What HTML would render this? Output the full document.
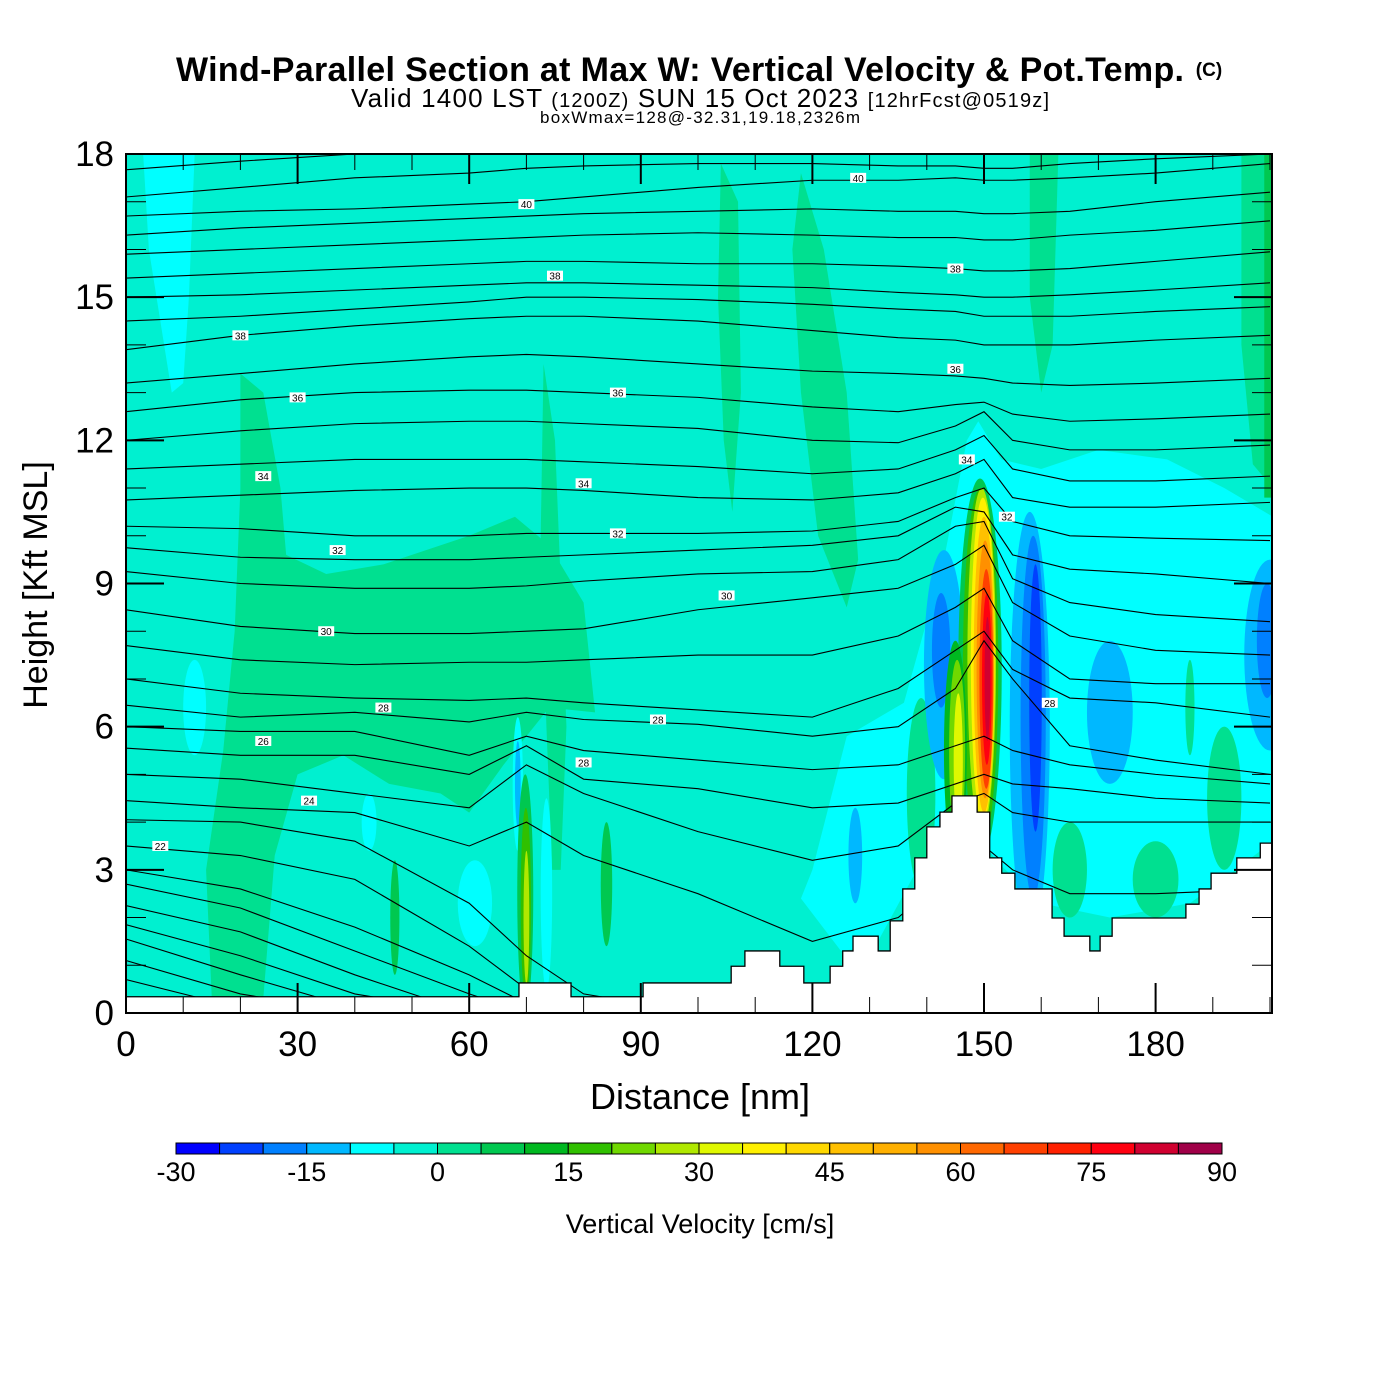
<!DOCTYPE html>
<html><head><meta charset="utf-8"><style>
body{margin:0;background:#fff}
svg{display:block}
text{font-family:"Liberation Sans",sans-serif}
</style></head><body>
<svg id="svg" width="1400" height="1400" viewBox="0 0 1400 1400">
<text x="176" y="81" font-size="34" font-weight="bold" textLength="1008">Wind-Parallel Section at Max W: Vertical Velocity &amp; Pot.Temp.</text>
<text x="1209" y="76" text-anchor="middle" font-size="19" font-weight="bold">(C)</text>
<text x="700" y="107" text-anchor="middle" font-size="26" textLength="698">Valid 1400 LST <tspan font-size="20">(1200Z)</tspan> SUN 15 Oct 2023 <tspan font-size="20">[12hrFcst@0519z]</tspan></text>
<text x="700" y="123" text-anchor="middle" font-size="17" textLength="320">boxWmax=128@-32.31,19.18,2326m</text>
<defs><clipPath id="pc"><rect x="126" y="154" width="1146" height="859"/></clipPath></defs>
<g id="plot" clip-path="url(#pc)"></g>
<g id="axes"></g>
<text x="700" y="1109" text-anchor="middle" font-size="36">Distance [nm]</text>
<text transform="translate(47,585) rotate(-90)" text-anchor="middle" font-size="34">Height [Kft MSL]</text>
<g id="cbar"></g>
<text x="700" y="1233" text-anchor="middle" font-size="27">Vertical Velocity [cm/s]</text>
</svg>
<script>
const colors=["#0000ff","#0040ff","#0080ff","#00b8ff","#00ffff","#00f0d0","#00e090","#00c850","#00b820","#30c000","#70d800","#b0e800","#e0f800","#fff000","#ffd800","#ffc000","#ffb000","#ff9000","#ff6800","#ff4000","#ff2000","#ff0010","#d00030","#a00048"];
const cbTicks=[-30,-15,0,15,30,45,60,75,90];
const xTicks=[0,30,60,90,120,150,180];
const yTicks=[0,3,6,9,12,15,18];
const regionIdx=[6,6,6,6,6,6,4,4,7];
const regionPts=[
 [[20,13.4],[24,13],[27,11],[28,9.6],[35,9.2],[45,9.4],[60,10],[68,10.4],[74,9.8],[80,8.6],[82,6.3],[74,6.4],[66,5.2],[60,4.2],[55,4.6],[46,4.8],[38,5.4],[30,5],[26,3.3],[24,0.3],[15,0.3],[14,3],[17,5.5],[19,8],[20,11]],
 [[73,13.6],[75,12],[76,9],[77,6],[76,3],[74.5,3],[73.5,6],[72.5,10]],
 [[104,17.8],[107,17],[107.5,13],[106,10.5],[104.5,12],[103.5,15]],
 [[118,17.6],[122,16],[126,13],[128,9.5],[126,8.5],[121,10],[118,13],[116.5,16]],
 [[195,18],[200.5,18],[200.5,11],[197,11.5],[195,14]],
 [[158,18],[163,18],[162,14],[160,13],[158,15]],
 [[120,3],[126,5.8],[136,6.5],[143,9.5],[147,12],[149,12.4],[153,11.6],[160,11.4],[170,11.8],[182,11.6],[192,11],[200.5,10.4],[200.5,3.6],[194,3],[186,2.3],[172,2],[160,2.3],[152,3.2],[147,4.2],[141,3.6],[136,2.5],[131,1.4],[125,1.3],[118,2.4]],
 [[3,18],[12,18],[11,15],[10,13.2],[8,13],[6,14.5],[4,16]],
 [[199,10.8],[200.5,10.8],[200.5,18],[199,18]]
];
const blobs=[
 [192,4.5,3,1.5,6],[180,2.8,4,0.8,6],[165,3,3,1,6],[139,4.6,2.5,2,6],
 [47,2,0.8,1.2,7],[84,2.7,1,1.3,7],[186,6.4,0.8,1,6],
 [12,6.4,2,1,4],[42.5,4,1.3,0.6,4],[61,2.3,3,0.9,4],[73.5,2.5,1,2,4],[68.5,4.8,0.9,1.4,4],
 [143,7.3,3.5,2.4,3],[142.5,7.6,1.6,1.2,2],[127.5,3.3,1.2,1,3],[158,6,3.5,4.5,3],[158.6,6.2,2.2,3.8,2],[159,6.6,1.1,2.8,1],
 [172,6.3,4,1.5,3],[200,7.5,4.5,2,3],[199.5,7.8,1.8,1.2,2],[68.5,4.8,0.5,0.9,3],
 [149.3,7.2,3.8,4.0,7],[149.4,7.2,3.1,3.8,9],[145,5.5,2,2.3,8],[145.3,5.5,1.4,1.9,10],[145.5,5.3,0.8,1.4,12],
 [149.6,7.4,2.5,3.6,11],[149.8,7.4,2.1,3.4,13],[150,7.3,1.8,3.1,15],[150.2,7.2,1.5,2.7,17],
 [150.4,7.0,1.2,2.3,19],[150.5,7.0,0.85,1.8,21],[150.6,7.0,0.5,1.3,22],
 [69.8,2.5,1.4,2.5,7],[69.9,2.3,0.9,2,9],[70,2.0,0.5,1.4,11]
];
const terX=[0,68.7,77.8,90.4,105.8,108.2,114.3,118.5,123.1,125.3,127.1,131.5,133.6,135.8,137.9,140.0,142.3,144.4,148.8,151.0,153.1,155.4,161.9,164.0,168.5,170.3,172.4,185.3,187.6,189.7,194.2,198.3];
const terZ=[0.34,0.63,0.34,0.63,0.98,1.30,0.98,0.63,0.98,1.30,1.61,1.30,1.93,2.60,3.25,3.90,4.21,4.55,4.21,3.25,2.93,2.60,1.99,1.61,1.30,1.61,1.99,2.28,2.60,2.93,3.25,3.56];
const thX=[0,20,40,60,70,80,100,120,135,145,150,155,165,180,200];
const thLines=[
[17.67,17.85,18.0,18.1,18.15,18.2,18.2,18.2,18.2,18.2,18.2,18.2,18.25,18.3,18.3],
[17.1,17.3,17.5,17.6,17.7,17.75,17.8,17.8,17.75,17.75,17.7,17.7,17.8,17.9,18.0],
[16.7,16.8,16.85,16.95,17.0,17.1,17.3,17.45,17.45,17.5,17.45,17.45,17.5,17.6,17.8],
[16.3,16.45,16.55,16.65,16.7,16.75,16.8,16.85,16.8,16.8,16.75,16.75,16.8,17.0,17.2],
[15.9,16.0,16.1,16.2,16.25,16.3,16.35,16.3,16.25,16.25,16.2,16.2,16.3,16.4,16.6],
[15.4,15.5,15.6,15.7,15.75,15.75,15.7,15.7,15.65,15.6,15.55,15.55,15.6,15.75,15.95],
[15.0,15.05,15.15,15.25,15.3,15.3,15.25,15.2,15.1,15.05,15.0,15.0,15.05,15.15,15.3],
[14.5,14.6,14.75,14.9,15.0,15.0,14.95,14.85,14.75,14.7,14.6,14.6,14.6,14.7,14.8],
[13.9,14.2,14.4,14.55,14.6,14.6,14.5,14.3,14.15,14.1,14.0,14.0,14.0,14.1,14.2],
[13.2,13.4,13.6,13.75,13.8,13.75,13.6,13.45,13.4,13.35,13.3,13.2,13.15,13.2,13.3],
[12.6,12.85,13.0,13.05,13.05,13.0,12.9,12.7,12.6,12.75,12.8,12.55,12.4,12.45,12.55],
[12.0,12.2,12.35,12.4,12.4,12.35,12.25,12.0,11.95,12.3,12.6,12.0,11.8,11.8,11.9],
[11.4,11.5,11.6,11.6,11.6,11.55,11.45,11.3,11.4,11.8,12.1,11.4,11.15,11.15,11.25],
[10.75,10.85,10.95,11.0,11.0,10.95,10.8,10.75,10.9,11.3,11.6,10.8,10.6,10.6,10.7],
[10.2,10.15,10.0,10.0,10.05,10.05,10.05,10.1,10.3,10.8,11.0,10.3,10.0,9.95,9.9],
[9.75,9.55,9.5,9.5,9.55,9.6,9.7,9.8,10.0,10.6,10.5,9.6,9.3,9.2,9.0],
[9.25,9.0,8.9,8.9,8.95,9.05,9.2,9.25,9.5,10.2,10.3,9.1,8.6,8.35,8.2],
[8.45,8.1,7.95,7.95,8.0,8.05,8.45,8.7,8.9,9.4,9.8,8.6,7.9,7.6,7.5],
[7.7,7.4,7.3,7.35,7.35,7.4,7.5,7.5,7.9,8.5,8.9,7.8,7.0,6.9,6.9],
[7.0,6.7,6.6,6.55,6.6,6.5,6.35,6.2,6.8,7.6,8.0,7.2,6.6,6.5,6.2],
[6.45,6.2,6.3,6.1,6.3,6.15,6.05,5.8,6.0,6.8,7.8,7.0,5.6,5.3,5.0],
[6.0,5.9,5.9,5.4,5.8,5.5,5.3,5.1,5.2,5.6,5.8,5.5,5.2,5.0,4.8],
[5.55,5.4,5.4,5.0,5.6,4.9,4.7,4.3,4.4,4.8,5.0,4.8,4.7,4.5,4.4],
[5.0,4.9,4.6,4.3,5.2,4.6,3.8,3.2,3.5,4.4,4.6,4.2,4.0,4.0,4.0],
[4.45,4.3,4.2,3.5,4.0,3.3,2.5,1.5,2.0,3.0,3.5,3.0,2.5,2.5,2.6],
[4.05,4.0,3.6,2.3,1.2,0.4,0,0,0,0,0,0,0,0,0],
[3.5,3.3,2.8,1.4,0.5,0,0,0,0,0,0,0,0,0,0],
[3.0,2.6,1.8,0.8,0.2,0,0,0,0,0,0,0,0,0,0],
[2.7,2.2,1.3,0.4,0,0,0,0,0,0,0,0,0,0,0],
[2.25,1.7,0.8,0,0,0,0,0,0,0,0,0,0,0,0],
[1.85,1.2,0.4,0,0,0,0,0,0,0,0,0,0,0,0],
[1.55,0.8,0.1,0,0,0,0,0,0,0,0,0,0,0,0],
[1.1,0.4,0,0,0,0,0,0,0,0,0,0,0,0,0],
[0.7,0.1,0,0,0,0,0,0,0,0,0,0,0,0,0]
];
const lblX=[128,70,20,75,145,145,30,86,24,80,37,86,105,35,45,93,24,80,32,6,161.5,147,154];
const lblZ=[17.5,16.95,14.2,15.45,15.6,13.5,12.9,13.0,11.25,11.1,9.7,10.05,8.75,8.0,6.4,6.15,5.7,5.25,4.45,3.5,6.5,11.6,10.4];
const lblT=["40","40","38","38","38","36","36","36","34","34","32","32","30","30","28","28","26","28","24","22","28","34","32"];

const NS="http://www.w3.org/2000/svg";
const X0=126,X1=1272,Y0=1013,Y1=154,XMAX=200.35,ZMAX=18;
const sx=v=>X0+v/XMAX*(X1-X0);
const sy=v=>Y0-v/ZMAX*(Y0-Y1);
function mk(tag,attrs,parent){const e=document.createElementNS(NS,tag);for(const k in attrs)e.setAttribute(k,attrs[k]);parent.appendChild(e);return e;}
const plot=document.getElementById('plot');
const bg=mk('rect',{x:X0,y:Y1,width:X1-X0,height:Y0-Y1,fill:colors[5]},plot);


regionPts.forEach((pts,i)=>{
 const p=mk('polygon',{points:pts.map(q=>sx(q[0])+','+sy(q[1])).join(' '),fill:colors[regionIdx[i]]},plot);
 
 
});
blobs.forEach(b=>{
 const e=mk('ellipse',{cx:sx(b[0]),cy:sy(b[1]),rx:b[2]/XMAX*(X1-X0),ry:b[3]/ZMAX*(Y0-Y1),fill:colors[b[4]]},plot);
 
 
});
thLines.forEach(l=>{
 const pl=mk('polyline',{points:l.map((z,i)=>sx(thX[i])+','+sy(z)).join(' '),fill:'none',stroke:'#000','stroke-width':1.1},plot);
 
 
});
let tp=[[sx(0),Y0]];
terX.forEach((x,i)=>{const xe=i+1<terX.length?terX[i+1]:XMAX;tp.push([sx(x),sy(terZ[i])]);tp.push([sx(xe),sy(terZ[i])]);});
tp.push([X1,Y0]);
const ter=mk('polygon',{points:tp.map(p=>p.join(',')).join(' '),fill:'#fff',stroke:'#000','stroke-width':1.3},plot);


lblT.forEach((t,i)=>{
 const g=mk('g',{},plot);
 
 
 mk('rect',{x:sx(lblX[i])-8,y:sy(lblZ[i])-5,width:16,height:10,fill:'#fff'},g);
 const tx=mk('text',{x:sx(lblX[i]),y:sy(lblZ[i])+4,'text-anchor':'middle','font-size':10},g);tx.textContent=t;
});
const ax=document.getElementById('axes');
const fr=mk('rect',{x:X0,y:Y1,width:X1-X0,height:Y0-Y1,fill:'none',stroke:'#000','stroke-width':2},ax);


for(let v=0;v<=200;v+=10){const maj=v%30===0;const L=maj?30:16;
 mk('line',{x1:sx(v),x2:sx(v),y1:Y0,y2:Y0-L,stroke:'#000','stroke-width':maj?2:1},ax);
 mk('line',{x1:sx(v),x2:sx(v),y1:Y1,y2:Y1+L,stroke:'#000','stroke-width':maj?2:1},ax);}
for(let v=0;v<=18;v+=1){const maj=v%3===0;const L=maj?38:20;
 mk('line',{x1:X0,x2:X0+L,y1:sy(v),y2:sy(v),stroke:'#000','stroke-width':maj?2:1},ax);
 mk('line',{x1:X1,x2:X1-L,y1:sy(v),y2:sy(v),stroke:'#000','stroke-width':maj?2:1},ax);}
xTicks.forEach(v=>{const t=mk('text',{x:sx(v),y:1056,'text-anchor':'middle','font-size':35},ax);t.textContent=v;
 
 });
yTicks.forEach(v=>{const t=mk('text',{x:114,y:sy(v)+12,'text-anchor':'end','font-size':35},ax);t.textContent=v;
 
 });
const cb=document.getElementById('cbar');
const CB0=176,CB1=1222,CBV0=-30,CBV1=90;
const cx=v=>CB0+(v-CBV0)/(CBV1-CBV0)*(CB1-CB0);
colors.forEach((c,i)=>{const r=mk('rect',{x:cx(-30+5*i),y:1143,width:cx(-25+5*i)-cx(-30+5*i),height:11,fill:c,stroke:'#000','stroke-width':1},cb);
 
 });
cbTicks.forEach(v=>{const t=mk('text',{x:cx(v),y:1181,'text-anchor':'middle','font-size':27},cb);t.textContent=v;
 
 });
</script>
</body></html>
